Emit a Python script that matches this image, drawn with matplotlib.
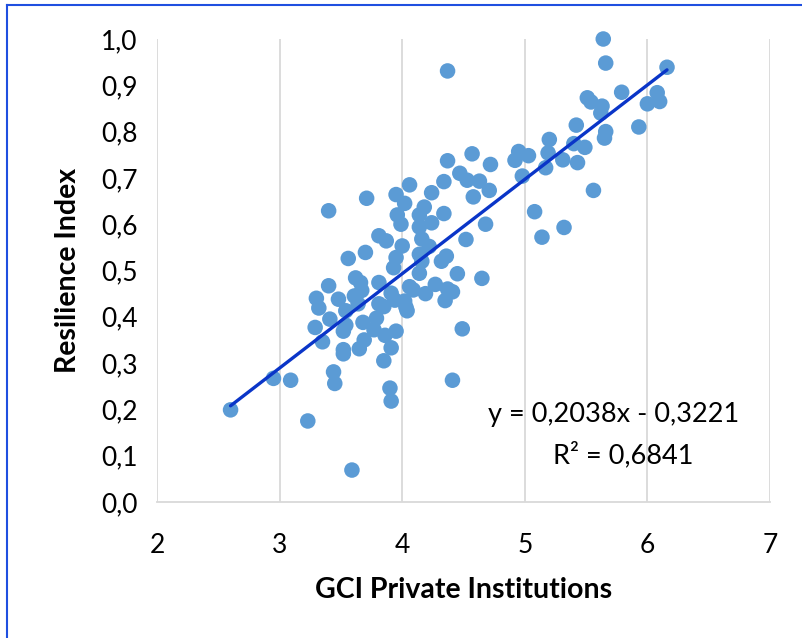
import matplotlib
matplotlib.use("Agg")
import matplotlib.pyplot as plt
from matplotlib.lines import Line2D
import numpy as np

plt.rcParams['font.family'] = ['Lato', 'DejaVu Sans']

gci_x = [
    5.64, 5.66, 6.16, 5.79, 6.08, 6.10, 6.00, 5.63, 5.51, 5.54, 5.62, 5.93, 5.66, 5.65,
    5.42, 5.40, 5.49, 5.43, 5.56, 5.20, 5.19, 5.17, 5.31, 5.32, 5.14, 5.08, 4.95, 4.92,
    5.03, 4.98, 4.72, 4.71, 4.57, 4.58, 4.37, 4.34, 4.47, 4.53, 4.63, 4.24, 4.06, 3.95,
    4.02, 3.71, 4.37, 3.40,
    4.34, 4.18, 4.14, 4.24, 3.96, 3.99, 4.14, 4.16, 4.22, 3.81, 3.87, 4.00, 3.70, 3.56,
    3.95, 3.93, 4.14, 4.16, 4.36, 4.32, 4.14, 4.45, 4.68, 4.52, 4.65, 4.49, 4.41,
    3.62, 3.66, 3.81, 3.40, 4.06, 4.09, 4.27, 4.19, 4.37, 4.41, 4.35, 3.30, 3.32, 3.48,
    3.61, 3.67, 3.64, 3.54, 3.41, 3.81, 3.85, 3.91, 3.94, 4.03, 4.04, 4.02, 3.68, 3.79,
    3.77, 3.86, 3.95, 3.29, 3.54, 3.52, 3.35, 3.69, 3.65, 3.52, 3.52, 3.91, 3.44, 3.45,
    3.85, 3.90, 3.91, 2.95, 3.09, 3.23, 3.59, 2.60,
]
resilience_y = [
    1.000, 0.948, 0.939, 0.885, 0.884, 0.865, 0.860, 0.855, 0.873, 0.864, 0.840, 0.810, 0.800, 0.786,
    0.814, 0.774, 0.766, 0.733, 0.673, 0.783, 0.754, 0.722, 0.739, 0.593, 0.572, 0.627, 0.757, 0.738,
    0.748, 0.704, 0.729, 0.673, 0.752, 0.659, 0.737, 0.692, 0.710, 0.695, 0.693, 0.668, 0.685, 0.664,
    0.645, 0.656, 0.931, 0.629,
    0.623, 0.637, 0.620, 0.603, 0.620, 0.600, 0.594, 0.568, 0.552, 0.575, 0.564, 0.553, 0.539, 0.526,
    0.528, 0.506, 0.535, 0.520, 0.531, 0.520, 0.494, 0.493, 0.600, 0.567, 0.483, 0.374, 0.263,
    0.484, 0.474, 0.474, 0.467, 0.465, 0.458, 0.470, 0.450, 0.460, 0.454, 0.435, 0.440, 0.419, 0.438,
    0.445, 0.457, 0.428, 0.413, 0.395, 0.428, 0.422, 0.451, 0.436, 0.421, 0.413, 0.434, 0.388, 0.397,
    0.372, 0.360, 0.369, 0.377, 0.382, 0.369, 0.346, 0.350, 0.331, 0.329, 0.320, 0.333, 0.281, 0.256,
    0.305, 0.246, 0.218, 0.267, 0.263, 0.175, 0.069, 0.199,
]

trend_slope = 0.2038
trend_intercept = -0.3221
r_squared = 0.6841

x_ticks = [2, 3, 4, 5, 6, 7]
y_ticks = [0.0, 0.1, 0.2, 0.3, 0.4, 0.5, 0.6, 0.7, 0.8, 0.9, 1.0]

fig = plt.figure(figsize=(8.02, 6.38), dpi=100)
ax = fig.add_axes([157/802, 1 - 502/638, 613/802, 463/638])

ax.scatter(gci_x, resilience_y, s=125, color='#5B9BD5', edgecolors='none', zorder=3,
           clip_on=False)

xs = np.array([min(gci_x), max(gci_x)])
ax.plot(xs, trend_slope * xs + trend_intercept, color='#0A35C8', lw=2.4, zorder=4,
        solid_capstyle='round')

ax.set_xlim(2, 7)
ax.set_ylim(0, 1.0)
ax.set_xticks(x_ticks)
ax.set_yticks(y_ticks)
ax.set_xticklabels([str(t) for t in x_ticks])
ax.set_yticklabels([f"{t:.1f}".replace('.', ',') for t in y_ticks])
ax.tick_params(axis='both', length=0, labelsize=19, colors='black')
ax.tick_params(axis='x', pad=22)
ax.tick_params(axis='y', pad=14)

ax.grid(axis='x', color='#D9D9D9', lw=1.3)
ax.grid(axis='y', visible=False)
ax.set_axisbelow(True)
for side in ['left', 'right', 'top']:
    ax.spines[side].set_visible(False)
ax.spines['bottom'].set_color('#D9D9D9')
ax.spines['bottom'].set_linewidth(1.3)

ax.set_xlabel('GCI Private Institutions', fontsize=20.5, fontweight='bold', labelpad=14)
ax.set_ylabel('Resilience Index', fontsize=20.5, fontweight='bold', labelpad=14)

eq = f"y = {trend_slope:.4f}".replace('.', ',') + "x - " + f"{abs(trend_intercept):.4f}".replace('.', ',')
r2 = "R² = " + f"{r_squared:.4f}".replace('.', ',')
ax.text(5.72, 0.188, eq, fontsize=19.5, ha='center', va='center')
ax.text(5.8, 0.101, r2, fontsize=19.5, ha='center', va='center')

# blue frame
fig.add_artist(Line2D([7/802, 7/802], [0, 1 - 5/638], transform=fig.transFigure,
                      color='#1F4FE0', lw=1.5))
fig.add_artist(Line2D([7/802, 1], [1 - 5/638, 1 - 5/638], transform=fig.transFigure,
                      color='#1F4FE0', lw=1.5))

fig.savefig('out.png', dpi=100)
